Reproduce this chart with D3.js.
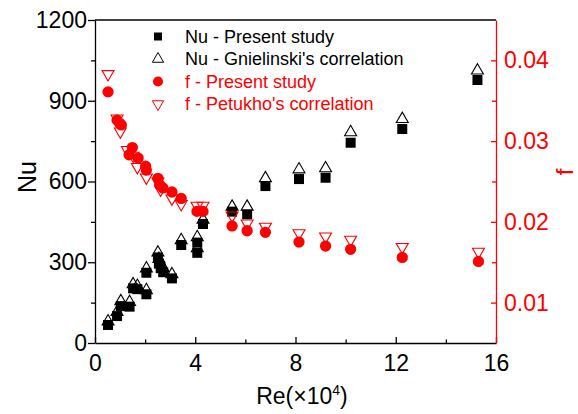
<!DOCTYPE html>
<html>
<head>
<meta charset="utf-8">
<script src="https://cdn.jsdelivr.net/npm/d3@7"></script>
<style>
	body { margin: 0; background: #fff; }
	svg text { font-family: "Liberation Sans", Arial, sans-serif; }
</style>
</head>
<body>
<script>
// Nu data (Re in units of 1e4)
var reNu = [0.52, 0.88, 1.03, 1.38, 1.52, 1.69, 2.05, 2.05, 2.51, 2.55, 2.62, 2.72, 3.07, 3.44, 4.08, 4.08, 4.31, 5.47, 6.07, 6.80, 8.14, 9.20, 10.20, 12.26, 15.26]
var nuPresent = [67, 100, 137, 135, 203, 200, 181, 261, 318, 295, 278, 263, 240, 364, 373, 335, 442, 488, 478, 583, 609, 614, 744, 795, 977]
var nuGnielinski = [80, 115, 155, 152, 218, 212, 196, 277, 336, 312, 294, 278, 255, 382, 393, 352, 458, 506, 506, 612, 645, 649, 783, 832, 1012]

// friction factor data
var reF = [0.52, 0.88, 0.98, 1.05, 1.36, 1.49, 1.72, 2.02, 2.05, 2.51, 2.58, 2.71, 3.07, 3.44, 4.07, 4.31, 5.47, 6.07, 6.80, 8.14, 9.20, 10.20, 12.26, 15.30]
var fPresent = [0.0361, 0.0326, 0.0322, 0.0320, 0.0283, 0.0292, 0.0279, 0.0269, 0.0264, 0.0254, 0.0246, 0.0242, 0.0237, 0.0229, 0.0213, 0.0213, 0.0195, 0.0189, 0.0187, 0.0175, 0.0170, 0.0166, 0.0156, 0.0151]
var rePet = [0.52, 0.88, 1.01, 1.29, 1.52, 1.69, 2.05, 2.51, 2.62, 3.07, 3.44, 4.07, 4.31, 5.47, 6.07, 6.80, 8.14, 9.20, 10.20, 12.26, 15.30]
var fPetukhov = [0.0383, 0.0328, 0.0312, 0.0289, 0.0282, 0.0268, 0.0255, 0.0250, 0.0240, 0.0229, 0.0222, 0.0220, 0.0220, 0.0208, 0.0198, 0.0194, 0.0186, 0.0182, 0.0178, 0.0169, 0.0163]

var xTicks = [0, 4, 8, 12, 16]
var nuTicks = [0, 300, 600, 900, 1200]
var fTicks = [0.01, 0.02, 0.03, 0.04]
var legendLabels = ["Nu - Present study", "Nu - Gnielinski's correlation", "f - Present study", "f - Petukho's correlation"]

var w = 578
var h = 414
var padLeft = 95, padRight = 496, padTop = 20, padBottom = 343
var red = "#ff0000"

var svg = d3.select("body").append("svg")
	.attr("width", w)
	.attr("height", h)

var x = d3.scaleLinear().domain([0, 16]).range([padLeft, padRight])
var yNu = d3.scaleLinear().domain([0, 1200]).range([padBottom, padTop])
var yF = d3.scaleLinear().domain([0.005, 0.045]).range([padBottom, padTop])

// frame top
svg.append("line")
	.attr("x1", padLeft).attr("x2", padRight)
	.attr("y1", padTop).attr("y2", padTop)
	.attr("stroke", "black").attr("stroke-width", 1.3)

// Axes
svg.append("g")
	.attr("transform", "translate(0," + padBottom + ")")
	.call(d3.axisBottom(x).tickValues(xTicks).tickSize(-6).tickSizeOuter(0).tickPadding(12))
svg.append("g")
	.attr("transform", "translate(0," + padBottom + ")")
	.call(d3.axisBottom(x).tickValues([2, 6, 10, 14]).tickSize(-3.5).tickFormat(""))
	.select(".domain").remove()

svg.append("g")
	.attr("transform", "translate(" + padLeft + ",0)")
	.call(d3.axisLeft(yNu).tickValues(nuTicks).tickSize(7).tickSizeOuter(0).tickPadding(1).tickFormat(d3.format("d")))
svg.append("g")
	.attr("transform", "translate(" + padLeft + ",0)")
	.call(d3.axisLeft(yNu).tickValues([150, 450, 750, 1050]).tickSize(4).tickFormat(""))
	.select(".domain").remove()

var gr = svg.append("g")
	.attr("transform", "translate(" + padRight + ",0)")
	.call(d3.axisRight(yF).tickValues(fTicks).tickSize(-5).tickSizeOuter(0).tickPadding(8).tickFormat(d3.format(".2f")))
var grMinor = svg.append("g")
	.attr("transform", "translate(" + padRight + ",0)")
	.call(d3.axisRight(yF).tickValues([0.015, 0.025, 0.035]).tickSize(-4).tickFormat(""))
grMinor.select(".domain").remove()

svg.selectAll(".domain, .tick line").attr("stroke-width", 1.3)
svg.selectAll(".tick text").attr("font-size", 23).attr("font-family", "Liberation Sans, Arial, sans-serif")
gr.selectAll("path, line").attr("stroke", red)
gr.selectAll("text").attr("fill", red)
grMinor.selectAll("line").attr("stroke", red)

// axis titles
svg.append("text")
	.attr("transform", "translate(36,177) rotate(-90)")
	.attr("text-anchor", "middle")
	.attr("font-size", 25)
	.text("Nu")

svg.append("text")
	.attr("transform", "translate(573,172) rotate(-90)")
	.attr("text-anchor", "middle")
	.attr("font-size", 24)
	.attr("fill", red)
	.text("f")

var xt = svg.append("text")
	.attr("x", 302).attr("y", 404)
	.attr("text-anchor", "middle")
	.attr("font-size", 23)
xt.append("tspan").text("Re(\u00d710")
xt.append("tspan").attr("font-size", 14).attr("dy", -9).text("4")
xt.append("tspan").attr("dy", 9).text(")")

// Marks
var sq = d3.symbol().type(d3.symbolSquare).size(100)
var tri = d3.symbol().type(d3.symbolTriangle).size(62)
var circ = d3.symbol().type(d3.symbolCircle).size(100)

svg.append("g").selectAll("path")
	.data(reNu)
	.enter().append("path")
	.attr("d", sq)
	.attr("transform", (d, i) => "translate(" + x(d) + "," + yNu(nuPresent[i]) + ")")
	.attr("fill", "black")

svg.append("g").selectAll("path")
	.data(reNu)
	.enter().append("path")
	.attr("d", tri)
	.attr("transform", (d, i) => "translate(" + x(d) + "," + yNu(nuGnielinski[i]) + ")")
	.attr("fill", "none")
	.attr("stroke", "black")
	.attr("stroke-width", 1.1)

svg.append("g").selectAll("path")
	.data(reF)
	.enter().append("path")
	.attr("d", circ)
	.attr("transform", (d, i) => "translate(" + x(d) + "," + yF(fPresent[i]) + ")")
	.attr("fill", red)

svg.append("g").selectAll("path")
	.data(rePet)
	.enter().append("path")
	.attr("d", tri)
	.attr("transform", (d, i) => "translate(" + x(d) + "," + yF(fPetukhov[i]) + ") rotate(180)")
	.attr("fill", "none")
	.attr("stroke", red)
	.attr("stroke-width", 1.1)

// Legend
var legendSym = [
	{ sym: d3.symbol().type(d3.symbolSquare).size(64), fill: "black", stroke: "none", rot: 0 },
	{ sym: d3.symbol().type(d3.symbolTriangle).size(55), fill: "none", stroke: "black", rot: 0 },
	{ sym: d3.symbol().type(d3.symbolCircle).size(80), fill: red, stroke: "none", rot: 0 },
	{ sym: d3.symbol().type(d3.symbolTriangle).size(55), fill: "none", stroke: red, rot: 180 }
]
var legendColor = ["black", "black", red, red]

var legend = svg.append("g")
legend.selectAll("path")
	.data(legendSym)
	.enter().append("path")
	.attr("d", (d) => d.sym())
	.attr("transform", (d, i) => "translate(158," + (36.5 + i * 22.5) + ") rotate(" + d.rot + ")")
	.attr("fill", (d) => d.fill)
	.attr("stroke", (d) => d.stroke)

legend.selectAll("text")
	.data(legendLabels)
	.enter().append("text")
	.attr("x", 185)
	.attr("y", (d, i) => 36.5 + i * 22.5)
	.attr("dy", "0.35em")
	.attr("font-size", 18)
	.attr("fill", (d, i) => legendColor[i])
	.text((d) => d)
</script>
</body>
</html>
